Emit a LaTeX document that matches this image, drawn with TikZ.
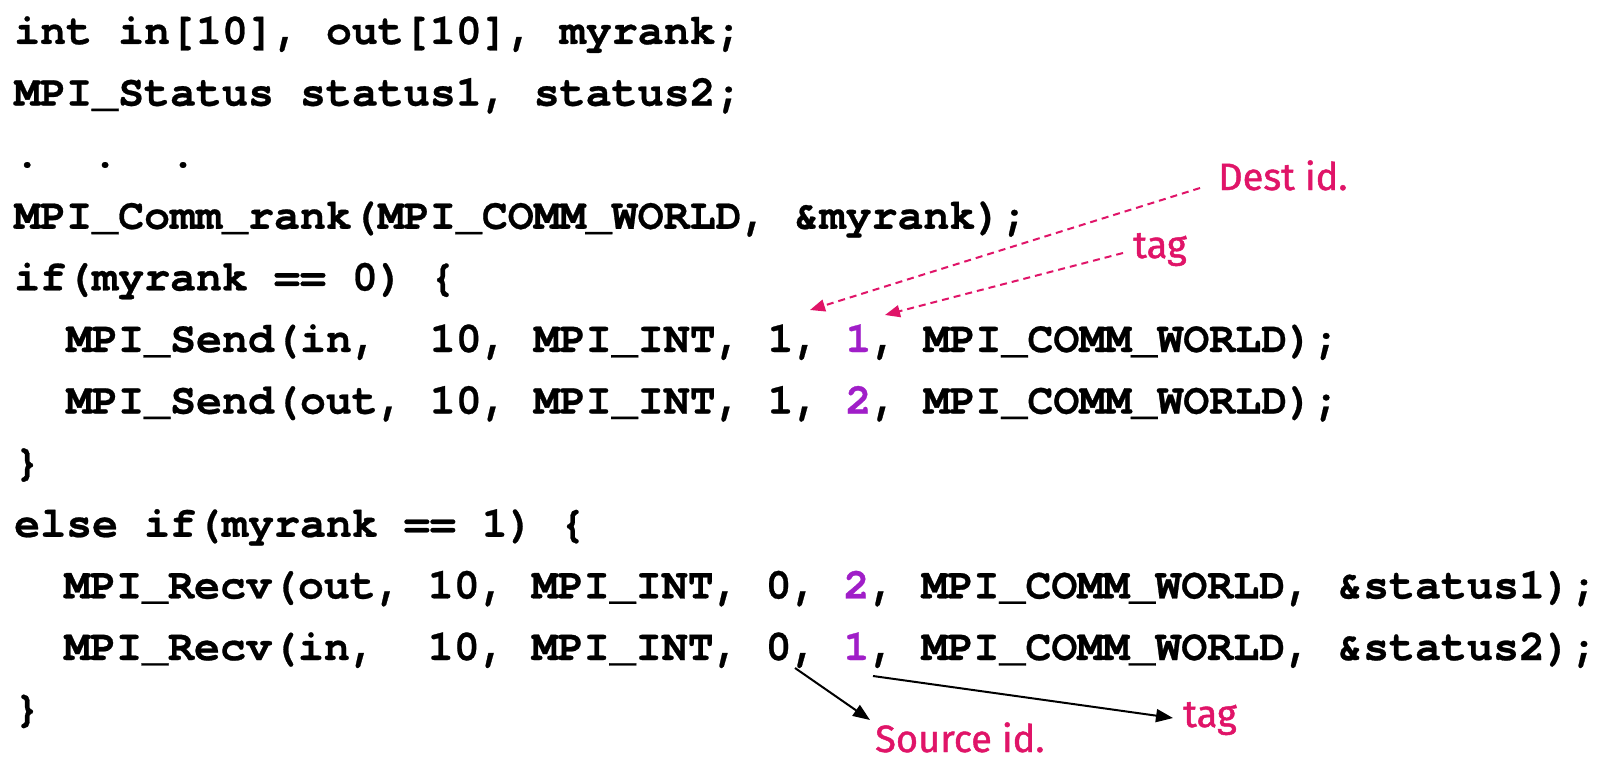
\documentclass[tikz,border=0pt]{standalone}
\usepackage{fontspec}
\usetikzlibrary{arrows.meta}
\newfontfamily\codefont{TeX Gyre Cursor}[FakeBold=0.6]
\newfontfamily\notefont{Fira Sans}[FakeBold=1.2]
\definecolor{notepink}{RGB}{224,20,104}
\definecolor{tagviolet}{RGB}{160,30,200}
\newcommand{\tg}[1]{\textcolor{tagviolet}{#1}}
\begin{document}
\begin{tikzpicture}[x=1pt, y=-1pt,
  code/.style={anchor=base west, inner sep=0pt,
    font=\codefont\bfseries\fontsize{43.3}{52}\selectfont},
  note/.style={anchor=base west, inner sep=0pt, text=notepink,
    font=\notefont\fontsize{38}{44}\selectfont},
  dasharrow/.style={draw=notepink, line width=2pt, dash pattern=on 7pt off 5pt,
    -{Triangle[length=15pt,width=12pt]}},
  pointer/.style={draw=black, line width=2pt,
    -{Triangle[length=17pt,width=13pt]}}]
\fill[white] (0,0) rectangle (1605,760);
\useasboundingbox (0,0) rectangle (1605,760);

% the code listing, one node per line
\node[code] (l1)  at (14,44)    {int\ in[10],\ out[10],\ myrank;};
\node[code] (l2)  at (14,105.6) {MPI\_Status\ status1,\ status2;};
\node[code] (l3)  at (14,167.2) {.\ \ .\ \ .};
\node[code] (l4)  at (14,228.8) {MPI\_Comm\_rank(MPI\_COMM\_WORLD,\ \&myrank);};
\node[code] (l5)  at (14,290.4) {if(myrank\ ==\ 0)\ \{};
\node[code] (l6)  at (14,352)   {\ \ MPI\_Send(in,\ \ 10,\ MPI\_INT,\ 1,\ \tg{1},\ MPI\_COMM\_WORLD);};
\node[code] (l7)  at (14,413.6) {\ \ MPI\_Send(out,\ 10,\ MPI\_INT,\ 1,\ \tg{2},\ MPI\_COMM\_WORLD);};
\node[code] (l8)  at (14,475.2) {\}};
\node[code] (l9)  at (14,536.8) {else\ if(myrank\ ==\ 1)\ \{};
\node[code] (l10) at (12,598.4) {\ \ MPI\_Recv(out,\ 10,\ MPI\_INT,\ 0,\ \tg{2},\ MPI\_COMM\_WORLD,\ \&status1);};
\node[code] (l11) at (12,660)   {\ \ MPI\_Recv(in,\ \ 10,\ MPI\_INT,\ 0,\ \tg{1},\ MPI\_COMM\_WORLD,\ \&status2);};
\node[code] (l12) at (14,721.6) {\}};

% annotations
\node[note] (dest) at (1218,190) {Dest id.};
\node[note] (tagA) at (1133,258) {tag};
\node[note] (src)  at (875,752)  {Source id.};
\node[note] (tagB) at (1183,727) {tag};

% arrow targets and origins next to the arguments
\coordinate (destarg) at (810,310);
\coordinate (tagarg)  at (885,315);
\coordinate (srcarg)  at (795,668);
\coordinate (tagrecv) at (873,676);
\coordinate (srcend)  at (870,720);
\coordinate (tagend)  at (1173,718);

\draw[dasharrow] ([xshift=-18pt,yshift=2pt]dest.base west) -- (destarg);
\draw[dasharrow] ([xshift=-10pt,yshift=5pt]tagA.base west) -- (tagarg);
\draw[pointer] (srcarg) -- (srcend);
\draw[pointer] (tagrecv) -- (tagend);
\end{tikzpicture}
\end{document}
